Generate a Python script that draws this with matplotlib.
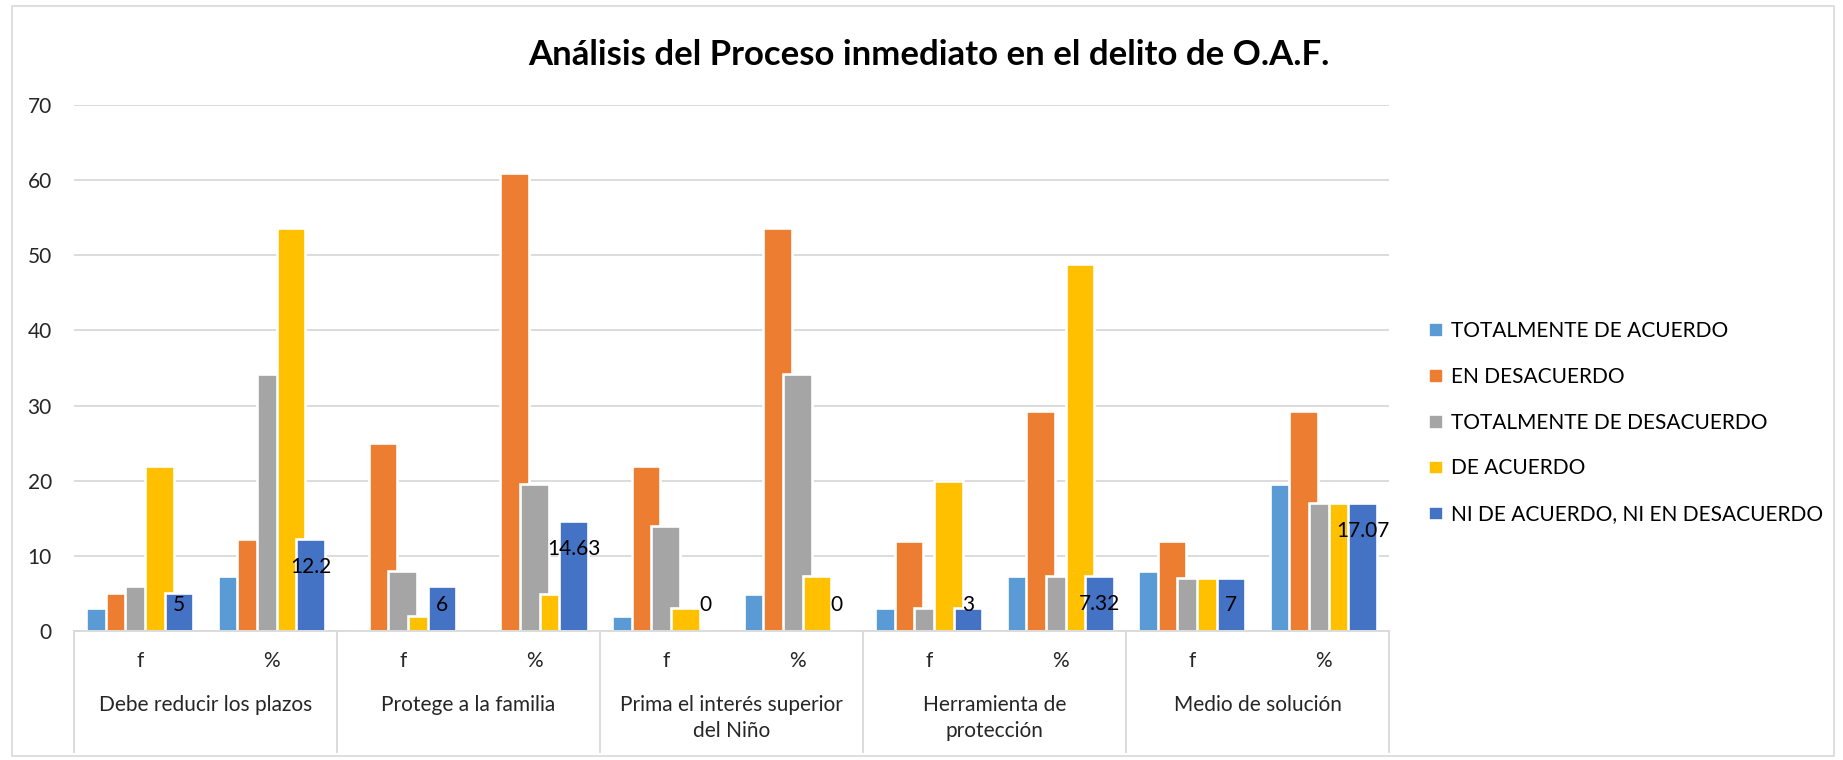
import numpy as np
import matplotlib.pyplot as plt
from matplotlib.patches import Rectangle

plt.rcParams['font.family'] = ['Lato', 'DejaVu Sans']

temas = ['Debe reducir los plazos', 'Protege a la familia',
         'Prima el interés superior\ndel Niño', 'Herramienta de\nprotección',
         'Medio de solución']
sub = ['f', '%']

series = ['TOTALMENTE DE ACUERDO', 'EN DESACUERDO', 'TOTALMENTE DE DESACUERDO',
          'DE ACUERDO', 'NI DE ACUERDO, NI EN DESACUERDO']
colores = ['#5B9BD5', '#ED7D31', '#A5A5A5', '#FFC000', '#4472C4']

# orden: plazos f, plazos %, familia f, familia %, niño f, niño %, ...
tot_acuerdo = [3, 7.32, 0, 0, 2, 4.88, 3, 7.32, 8, 19.51]
en_desacuerdo = [5, 12.2, 25, 60.98, 22, 53.66, 12, 29.27, 12, 29.27]
tot_desacuerdo = [6, 34.15, 8, 19.51, 14, 34.15, 3, 7.32, 7, 17.07]
de_acuerdo = [22, 53.66, 2, 4.88, 3, 7.32, 20, 48.78, 7, 17.07]
ni_ni = [5, 12.2, 6, 14.63, 0, 0, 3, 7.32, 7, 17.07]

valores = [tot_acuerdo, en_desacuerdo, tot_desacuerdo, de_acuerdo, ni_ni]

W, H = 1843, 760
fig = plt.figure(figsize=(W / 100, H / 100), dpi=100)
fig.patches.append(Rectangle((12 / W, 4 / H), 1822 / W, 750 / H,
                             transform=fig.transFigure, fill=False,
                             edgecolor='#d9d9d9', lw=1.2))

ax = fig.add_axes([74 / W, 129 / H, 1315 / W, 526 / H])

x = np.arange(len(tot_acuerdo))
paso = 0.15
ancho = 0.217
for i, (vals, nombre, c) in enumerate(zip(valores, series, colores)):
    ax.bar(x + (i - 2) * paso, vals, ancho, color=c, edgecolor='white',
           linewidth=1.9, label=nombre, zorder=2)

# etiquetas solo en la ultima serie
for xi, v in zip(x, ni_ni):
    ax.text(xi + 2 * paso, max(v - 3.7, 3.4), f'{v:g}', ha='center',
            va='center', fontsize=15, color='black', zorder=5)

ax.set_xlim(-0.5, len(x) - 0.5)
ax.set_ylim(0, 70)
ax.set_yticks(range(0, 71, 10))
ax.tick_params(axis='y', length=0, labelsize=15, labelcolor='#262626', pad=16)
ax.set_xticks([])
ax.grid(axis='y', color='#d9d9d9', lw=1.3, zorder=0)
ax.set_axisbelow(True)
for s in ['top', 'right', 'left']:
    ax.spines[s].set_visible(False)
ax.spines['bottom'].set_color('#d9d9d9')
ax.spines['bottom'].set_linewidth(1.3)

tr = ax.get_xaxis_transform()
for xi in x:
    ax.text(xi, -0.057, sub[xi % 2], transform=tr, ha='center', va='center',
            fontsize=15, color='#262626')
for g, tema in enumerate(temas):
    ax.text(2 * g + 0.5, -0.122, tema, transform=tr, ha='center', va='top',
            fontsize=15, color='#262626', linespacing=1.35)
for b in np.arange(len(temas) + 1) * 2 - 0.5:
    ax.plot([b, b], [0, -0.23], transform=tr, color='#d9d9d9', lw=1.3,
            clip_on=False)

fig.text(929 / W, 1 - 55 / H, 'Análisis del Proceso inmediato en el delito de O.A.F.',
         ha='center', va='center', fontsize=25, weight='bold')

fig.legend(loc='upper left', bbox_to_anchor=(1428 / W, 1 - 321 / H),
           frameon=False, fontsize=15, handlelength=0.7, handleheight=0.7,
           handletextpad=0.4, labelspacing=1.24, borderpad=0, borderaxespad=0)

fig.savefig('out.png', dpi=100)
